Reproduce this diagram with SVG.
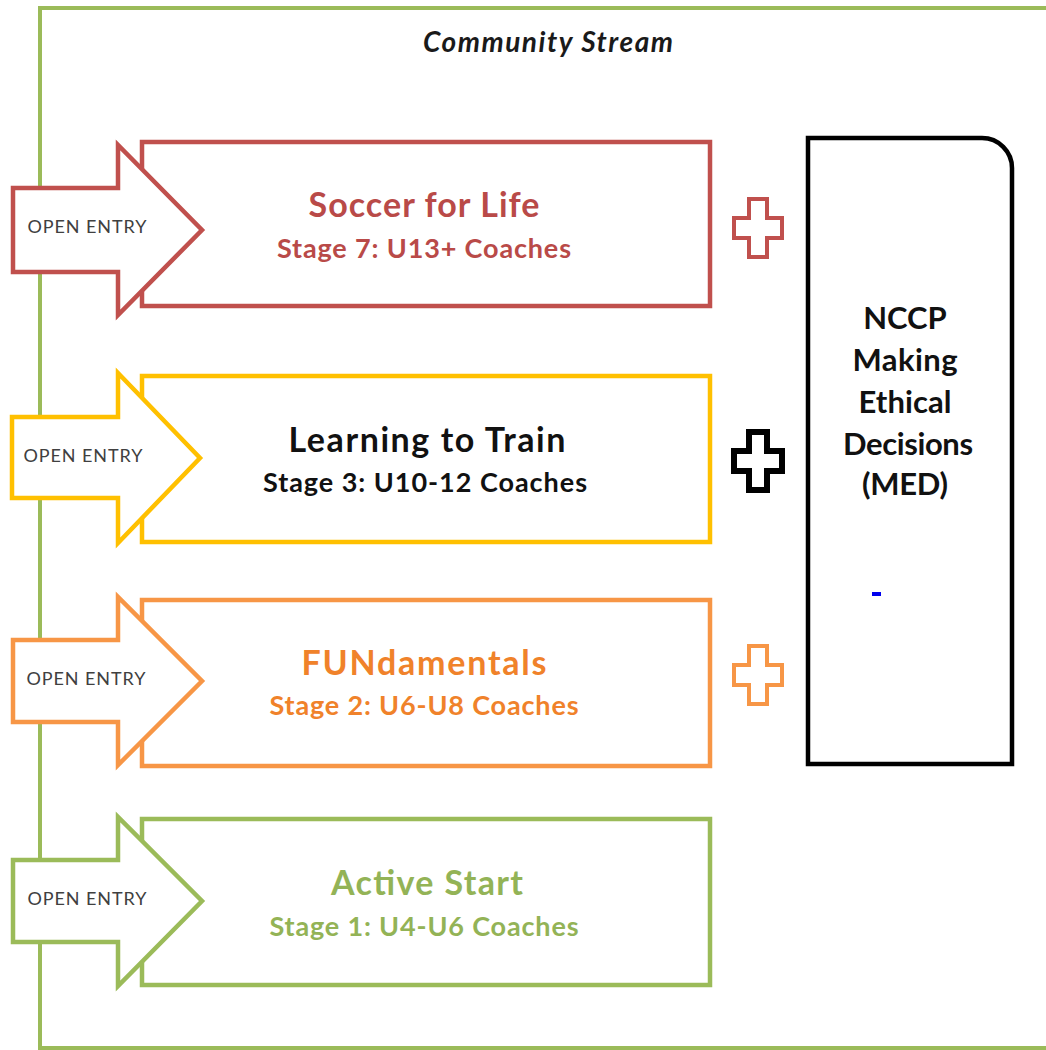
<svg xmlns="http://www.w3.org/2000/svg" width="1046" height="1050" viewBox="0 0 1046 1050">
<style>
.box{fill:#fff;stroke-width:4.5}
.arr{fill:#fff;stroke-width:4.5;stroke-linejoin:miter}
.oe{font-family:Lato,"Liberation Sans",sans-serif;font-size:18px;fill:#404040;text-anchor:middle}
.t1{font-family:Lato,"Liberation Sans",sans-serif;font-weight:bold;font-size:34px;text-anchor:middle}
.t2{font-family:Lato,"Liberation Sans",sans-serif;font-weight:bold;font-size:27px;text-anchor:middle}
.med{font-family:Lato,"Liberation Sans",sans-serif;font-weight:bold;font-size:31px;text-anchor:middle;fill:#111}
.red{stroke:#c0504d}.yel{stroke:#ffc000}.org{stroke:#f79646}.grn{stroke:#9bbb59}
</style>
<defs>
<path id="plus" d="M-9,-29 H9 V-10 H24 V10 H9 V29 H-9 V10 H-24 V-10 H-9 Z"/>
</defs>
<g id="frame">
<path d="M1046,8 H40 V1048 H1046" fill="none" stroke="#9bbb59" stroke-width="4"/>
<text x="548" y="52" font-family="Lato,'Liberation Sans',sans-serif" font-size="28" font-weight="bold" font-style="italic" fill="#1a1a1a" text-anchor="middle" textLength="250" lengthAdjust="spacing">Community Stream</text>
</g>
<g id="soccer-for-life">
<rect class="box red" x="142" y="142" width="568" height="164"/>
<path class="arr red" d="M13,188 H118 V145 L202,230 L118,315 V272 H13 Z"/>
<text class="oe" x="87" y="233" textLength="119" lengthAdjust="spacing">OPEN ENTRY</text>
<text class="t1" x="424" y="217" fill="#b94a48" textLength="231" lengthAdjust="spacing">Soccer for Life</text>
<text class="t2" x="424" y="258" fill="#b94a48" textLength="294" lengthAdjust="spacing">Stage 7: U13+ Coaches</text>
</g>
<g id="learning-to-train">
<rect class="box yel" x="142" y="376" width="568" height="166"/>
<path class="arr yel" d="M12,417 H118 V373 L200,458 L118,543 V498 H12 Z"/>
<text class="oe" x="83" y="462" textLength="119" lengthAdjust="spacing">OPEN ENTRY</text>
<text class="t1" x="427" y="452" fill="#111" textLength="277" lengthAdjust="spacing">Learning to Train</text>
<text class="t2" x="425" y="492" fill="#111" textLength="324" lengthAdjust="spacing">Stage 3: U10-12 Coaches</text>
</g>
<g id="fundamentals">
<rect class="box org" x="142" y="600" width="568" height="166"/>
<path class="arr org" d="M13,640 H118 V597 L202,681 L118,765 V722 H13 Z"/>
<text class="oe" x="86" y="685" textLength="119" lengthAdjust="spacing">OPEN ENTRY</text>
<text class="t1" x="424" y="675" fill="#f0822a" textLength="245" lengthAdjust="spacing">FUNdamentals</text>
<text class="t2" x="424" y="715" fill="#f0822a" textLength="309" lengthAdjust="spacing">Stage 2:  U6-U8 Coaches</text>
</g>
<g id="active-start">
<rect class="box grn" x="142" y="819" width="568" height="166"/>
<path class="arr grn" d="M13,860 H118 V817 L202,901 L118,986 V942 H13 Z"/>
<text class="oe" x="87" y="905" textLength="119" lengthAdjust="spacing">OPEN ENTRY</text>
<text class="t1" x="427" y="895" fill="#93b356" textLength="192" lengthAdjust="spacing">Active Start</text>
<text class="t2" x="424" y="936" fill="#93b356" textLength="309" lengthAdjust="spacing">Stage 1: U4-U6 Coaches</text>
</g>
<g id="med">
<path d="M808,138 H982 A30,30 0 0 1 1012,168 V764 H808 Z" fill="#fff" stroke="#000" stroke-width="4.5"/>
<text class="med" x="905" y="329">NCCP</text>
<text class="med" x="905" y="371" textLength="105" lengthAdjust="spacing">Making</text>
<text class="med" x="905" y="413" textLength="93" lengthAdjust="spacing">Ethical</text>
<text class="med" x="908" y="455" textLength="130" lengthAdjust="spacing">Decisions</text>
<text class="med" x="905" y="495" textLength="86" lengthAdjust="spacing">(MED)</text>
<rect x="872" y="592" width="9" height="4" fill="#0000ee"/>
</g>
<g id="connectors">
<use href="#plus" x="758" y="228" fill="#fff" stroke="#c0504d" stroke-width="4"/>
<use href="#plus" x="758" y="461" fill="#fff" stroke="#000" stroke-width="6"/>
<use href="#plus" x="758" y="675" fill="#fff" stroke="#f79646" stroke-width="4"/>
</g>
</svg>
